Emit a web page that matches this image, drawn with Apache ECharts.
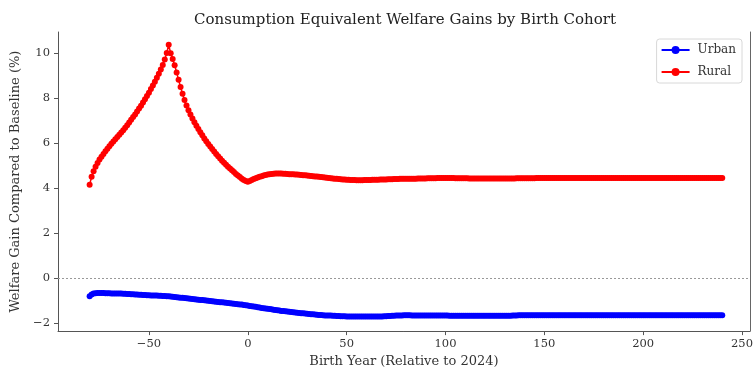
<!DOCTYPE html>
<html>
<head>
<meta charset="utf-8">
<script src="https://cdn.jsdelivr.net/npm/echarts@6/dist/echarts.min.js"></script>
<style>
  html, body { margin: 0; padding: 0; background: #fff; }
  #chart { width: 756px; height: 373px; }
</style>
</head>
<body>
<div id="chart"></div>
<script>
// Birth year relative to 2024, one cohort per year
const firstYear = -80;
const lastYear = 240;

// Urban consumption-equivalent welfare gain (%), by cohort
const urban = [
  -0.82, -0.74, -0.70, -0.68, -0.67, -0.67, -0.67, -0.67, -0.68, -0.68,
  -0.68, -0.69, -0.69, -0.69, -0.70, -0.70, -0.70, -0.71, -0.71, -0.72,
  -0.72, -0.73, -0.73, -0.74, -0.74, -0.75, -0.75, -0.76, -0.76, -0.77,
  -0.77, -0.78, -0.78, -0.79, -0.79, -0.80, -0.80, -0.81, -0.81, -0.82,
  -0.82, -0.83, -0.84, -0.85, -0.86, -0.87, -0.88, -0.89, -0.90, -0.91,
  -0.92, -0.93, -0.94, -0.95, -0.96, -0.97, -0.98, -0.99, -1.00, -1.01,
  -1.02, -1.03, -1.04, -1.05, -1.06, -1.07, -1.08, -1.09, -1.10, -1.11,
  -1.12, -1.13, -1.14, -1.15, -1.16, -1.17, -1.18, -1.19, -1.21, -1.22,
  -1.23, -1.25, -1.26, -1.28, -1.29, -1.31, -1.32, -1.34, -1.35, -1.36,
  -1.38, -1.39, -1.40, -1.42, -1.43, -1.44, -1.45, -1.47, -1.48, -1.49,
  -1.50, -1.51, -1.52, -1.53, -1.54, -1.55, -1.56, -1.57, -1.58, -1.59,
  -1.60, -1.61, -1.62, -1.62, -1.63, -1.64, -1.65, -1.65, -1.66, -1.67,
  -1.67, -1.68, -1.68, -1.69, -1.69, -1.70, -1.70, -1.71, -1.71, -1.71,
  -1.72, -1.72, -1.72, -1.72, -1.72, -1.72, -1.72, -1.72, -1.72, -1.72,
  -1.72, -1.72, -1.72, -1.72, -1.72, -1.72, -1.72, -1.72, -1.72, -1.71,
  -1.71, -1.70, -1.70, -1.69, -1.69, -1.68, -1.68, -1.67, -1.67, -1.66,
  -1.66, -1.66, -1.66, -1.67, -1.67, -1.67, -1.67, -1.67, -1.67, -1.67,
  -1.67, -1.67, -1.67, -1.67, -1.67, -1.67, -1.67, -1.67, -1.67, -1.67,
  -1.68, -1.68, -1.69, -1.69, -1.69, -1.69, -1.69, -1.69, -1.69, -1.69,
  -1.69, -1.69, -1.69, -1.69, -1.69, -1.69, -1.69, -1.69, -1.69, -1.69,
  -1.69, -1.69, -1.69, -1.69, -1.69, -1.69, -1.69, -1.69, -1.69, -1.69,
  -1.69, -1.69, -1.69, -1.69, -1.68, -1.68, -1.67, -1.66, -1.66, -1.66,
  -1.66, -1.66, -1.66, -1.66, -1.66, -1.66, -1.66, -1.66, -1.66, -1.66,
  -1.66, -1.66, -1.66, -1.66, -1.66, -1.66, -1.66, -1.66, -1.66, -1.66,
  -1.66, -1.66, -1.66, -1.66, -1.66, -1.66, -1.66, -1.66, -1.66, -1.66,
  -1.66, -1.66, -1.66, -1.66, -1.66, -1.66, -1.66, -1.66, -1.66, -1.66,
  -1.66, -1.66, -1.66, -1.66, -1.66, -1.66, -1.66, -1.66, -1.66, -1.66,
  -1.66, -1.66, -1.66, -1.66, -1.66, -1.66, -1.66, -1.66, -1.66, -1.66,
  -1.66, -1.66, -1.66, -1.66, -1.66, -1.66, -1.66, -1.66, -1.66, -1.66,
  -1.66, -1.66, -1.66, -1.66, -1.66, -1.66, -1.66, -1.66, -1.66, -1.66,
  -1.66, -1.66, -1.66, -1.66, -1.66, -1.66, -1.66, -1.66, -1.66, -1.66,
  -1.66, -1.66, -1.66, -1.66, -1.66, -1.66, -1.66, -1.66, -1.66, -1.66,
  -1.66
];

// Rural consumption-equivalent welfare gain (%), by cohort
const rural = [
  4.15, 4.50, 4.75, 4.95, 5.12, 5.27, 5.40, 5.52, 5.64, 5.75,
  5.86, 5.97, 6.07, 6.17, 6.27, 6.37, 6.47, 6.58, 6.69, 6.80,
  6.92, 7.04, 7.16, 7.28, 7.41, 7.54, 7.67, 7.81, 7.95, 8.10,
  8.25, 8.41, 8.57, 8.74, 8.91, 9.09, 9.28, 9.48, 9.72, 10.02,
  10.38, 10.00, 9.75, 9.47, 9.15, 8.82, 8.50, 8.20, 7.92, 7.68,
  7.47, 7.28, 7.10, 6.93, 6.78, 6.63, 6.49, 6.35, 6.21, 6.08,
  5.96, 5.85, 5.74, 5.63, 5.52, 5.42, 5.32, 5.22, 5.13, 5.04,
  4.95, 4.87, 4.79, 4.71, 4.63, 4.56, 4.49, 4.42, 4.36, 4.31,
  4.28, 4.32, 4.36, 4.40, 4.44, 4.47, 4.50, 4.53, 4.56, 4.58,
  4.60, 4.62, 4.63, 4.64, 4.65, 4.65, 4.65, 4.65, 4.64, 4.64,
  4.63, 4.62, 4.62, 4.61, 4.60, 4.60, 4.59, 4.58, 4.57, 4.57,
  4.56, 4.55, 4.54, 4.53, 4.52, 4.51, 4.50, 4.49, 4.48, 4.47,
  4.46, 4.45, 4.44, 4.43, 4.42, 4.41, 4.40, 4.39, 4.38, 4.38,
  4.37, 4.37, 4.36, 4.36, 4.36, 4.35, 4.35, 4.35, 4.35, 4.36,
  4.36, 4.36, 4.36, 4.37, 4.37, 4.37, 4.37, 4.38, 4.38, 4.38,
  4.38, 4.39, 4.39, 4.39, 4.40, 4.40, 4.40, 4.41, 4.41, 4.41,
  4.41, 4.42, 4.42, 4.42, 4.42, 4.42, 4.43, 4.43, 4.43, 4.43,
  4.43, 4.44, 4.44, 4.44, 4.44, 4.44, 4.45, 4.45, 4.45, 4.45,
  4.45, 4.45, 4.45, 4.45, 4.45, 4.44, 4.44, 4.44, 4.44, 4.44,
  4.44, 4.44, 4.43, 4.43, 4.43, 4.43, 4.43, 4.43, 4.43, 4.43,
  4.43, 4.43, 4.43, 4.43, 4.43, 4.43, 4.43, 4.43, 4.43, 4.43,
  4.43, 4.43, 4.43, 4.43, 4.43, 4.43, 4.44, 4.44, 4.44, 4.44,
  4.44, 4.44, 4.44, 4.44, 4.44, 4.44, 4.45, 4.45, 4.45, 4.45,
  4.45, 4.45, 4.45, 4.45, 4.45, 4.45, 4.45, 4.45, 4.45, 4.45,
  4.45, 4.45, 4.45, 4.45, 4.45, 4.45, 4.45, 4.45, 4.45, 4.45,
  4.45, 4.45, 4.45, 4.45, 4.45, 4.45, 4.45, 4.45, 4.45, 4.45,
  4.45, 4.45, 4.45, 4.45, 4.45, 4.45, 4.45, 4.45, 4.45, 4.45,
  4.45, 4.45, 4.45, 4.45, 4.45, 4.45, 4.45, 4.45, 4.45, 4.45,
  4.45, 4.45, 4.45, 4.45, 4.45, 4.45, 4.45, 4.45, 4.45, 4.45,
  4.45, 4.45, 4.45, 4.45, 4.45, 4.45, 4.45, 4.45, 4.45, 4.45,
  4.45, 4.45, 4.45, 4.45, 4.45, 4.45, 4.45, 4.45, 4.45, 4.45,
  4.45, 4.45, 4.45, 4.45, 4.45, 4.45, 4.45, 4.45, 4.45, 4.45,
  4.45
];

// Axis ticks
const xTicks = [-50, 0, 50, 100, 150, 200, 250];
const yTicks = [-2, 0, 2, 4, 6, 8, 10];

const FONT = '"DejaVu Serif", "Liberation Serif", serif';
const INK = '#333';
const SPINE = '#555';

function pairs(values) {
  return values.map((v, i) => [firstYear + i, v]);
}
function fmt(v) {
  return v < 0 ? '\u2212' + Math.abs(v) : String(v);
}

const chart = echarts.init(document.getElementById('chart'), null, { renderer: 'canvas' });

chart.setOption({
  animation: false,
  backgroundColor: '#fff',
  title: {
    text: 'Consumption Equivalent Welfare Gains by Birth Cohort',
    left: 405,
    textAlign: 'center',
    top: 13,
    padding: 0,
    textStyle: { fontFamily: FONT, fontSize: 15, fontWeight: 'normal', color: '#222' }
  },
  legend: {
    orient: 'vertical',
    right: 14,
    top: 39,
    padding: [5, 6, 5, 4],
    itemWidth: 28,
    itemHeight: 10,
    itemGap: 10,
    borderColor: '#d8d8d8',
    borderWidth: 1,
    borderRadius: 3,
    backgroundColor: 'rgba(255,255,255,0.8)',
    textStyle: { fontFamily: FONT, fontSize: 12, color: INK, padding: [0, 0, 0, 3] },
    data: ['Urban', 'Rural']
  },
  grid: { left: 58, right: 3, top: 32, bottom: 37, containLabel: false },
  xAxis: {
    type: 'value',
    min: -96,
    max: 254,
    name: 'Birth Year (Relative to 2024)',
    nameLocation: 'middle',
    nameGap: 23,
    nameTextStyle: { fontFamily: FONT, fontSize: 13, color: INK },
    splitLine: { show: false },
    axisLine: { show: true, onZero: false, lineStyle: { color: SPINE, width: 1 } },
    axisTick: { show: true, length: 4, customValues: xTicks, lineStyle: { color: SPINE } },
    axisLabel: {
      customValues: xTicks,
      formatter: fmt,
      margin: 7,
      fontFamily: FONT, fontSize: 11.5, color: INK
    }
  },
  yAxis: [{
    type: 'value',
    min: -2.37,
    max: 10.95,
    name: 'Welfare Gain Compared to Baseline (%)',
    nameLocation: 'middle',
    nameGap: 32,
    nameTextStyle: { fontFamily: FONT, fontSize: 13, color: INK },
    splitLine: { show: false },
    axisLine: { show: true, onZero: false, lineStyle: { color: SPINE, width: 1 } },
    axisTick: { show: true, length: 4, customValues: yTicks, lineStyle: { color: SPINE } },
    axisLabel: {
      customValues: yTicks,
      formatter: fmt,
      margin: 8,
      fontFamily: FONT, fontSize: 11.5, color: INK
    }
  }, {
    type: 'value',
    position: 'right',
    min: -2.37,
    max: 10.95,
    splitLine: { show: false },
    axisLine: { show: true, onZero: false, lineStyle: { color: '#666', width: 1 } },
    axisTick: { show: false },
    axisLabel: { show: false }
  }],
  series: [
    {
      name: 'Urban',
      type: 'line',
      data: pairs(urban),
      symbol: 'circle',
      symbolSize: 6,
      showAllSymbol: true,
      color: '#0000ff',
      lineStyle: { color: '#0000ff', width: 1.5 },
      itemStyle: { color: '#0000ff' },
      markLine: {
        silent: true,
        symbol: 'none',
        label: { show: false },
        lineStyle: { color: '#999', type: [2, 2], width: 1 },
        data: [{ yAxis: 0 }]
      },
      z: 2
    },
    {
      name: 'Rural',
      type: 'line',
      data: pairs(rural),
      symbol: 'circle',
      symbolSize: 6,
      showAllSymbol: true,
      color: '#ff0000',
      lineStyle: { color: '#ff0000', width: 1.5 },
      itemStyle: { color: '#ff0000' },
      z: 3
    }
  ]
});
</script>
</body>
</html>
